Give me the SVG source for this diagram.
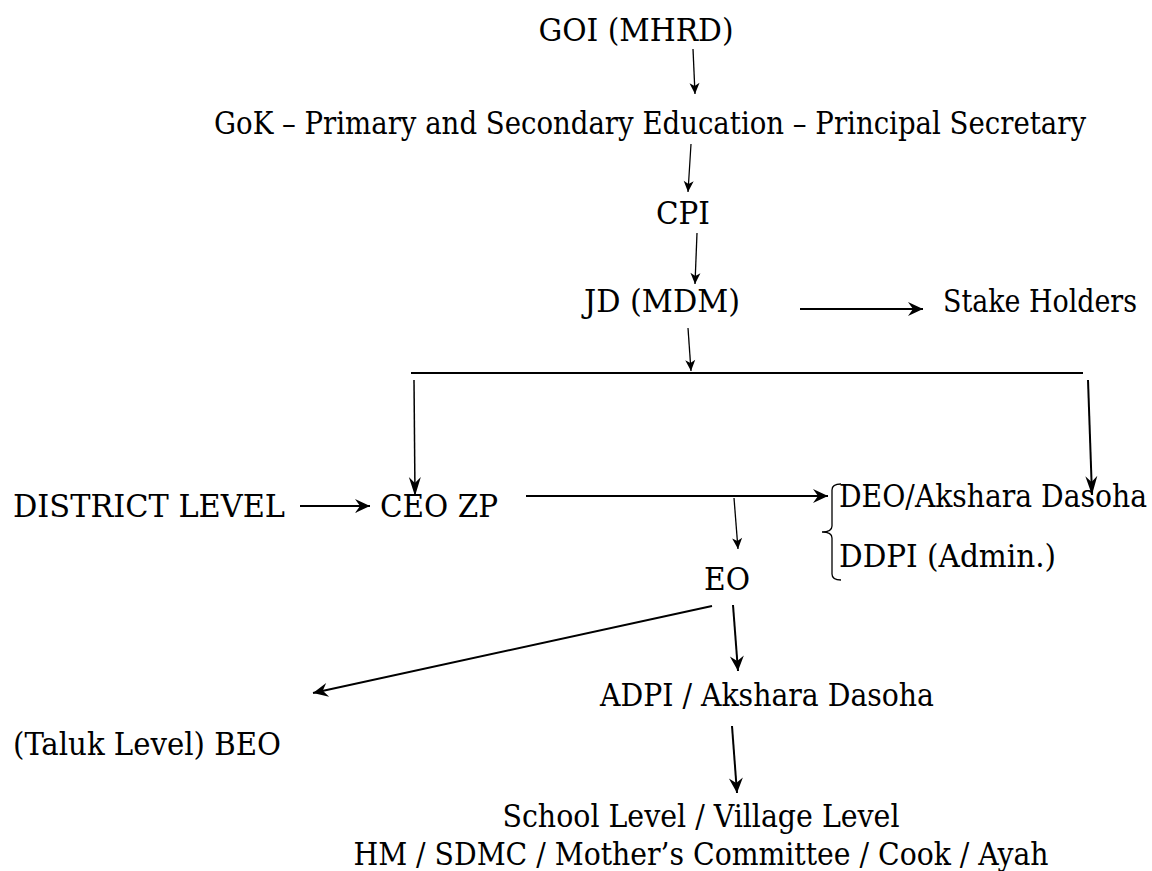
<svg xmlns="http://www.w3.org/2000/svg" width="1152" height="871" viewBox="0 0 1152 871">
<style>
text{font-family:'DejaVu Serif Condensed','DejaVu Serif',serif;font-stretch:condensed;font-size:32px;fill:#000}
.c{text-anchor:middle}
.t{stroke:#000;stroke-width:1.3;fill:none}
.k{stroke:#000;stroke-width:2;fill:none}
</style>
<defs>
<marker id="as" markerUnits="userSpaceOnUse" viewBox="-12 -6 13 12" markerWidth="13" markerHeight="12" refX="0" refY="0" orient="auto">
<path d="M0,0 L-11,-5 L-8,0 L-11,5 Z" fill="#000"/>
</marker>
<marker id="al" markerUnits="userSpaceOnUse" viewBox="-17 -8 18 16" markerWidth="18" markerHeight="16" refX="0" refY="0" orient="auto">
<path d="M0,0 L-15,-7 L-10,0 L-15,7 Z" fill="#000"/>
</marker>
<marker id="av" markerUnits="userSpaceOnUse" viewBox="-21 -7 22 14" markerWidth="22" markerHeight="14" refX="0" refY="0" orient="auto">
<path d="M0,0 L-19,-6 L-13,0 L-19,6 Z" fill="#000"/>
</marker>
</defs>
<rect width="1152" height="871" fill="#fff"/>
<g id="goi"><text class="c" x="636" y="41" textLength="195" lengthAdjust="spacingAndGlyphs">GOI (MHRD)</text></g>
<g id="gok"><text class="c" x="650" y="134" textLength="872" lengthAdjust="spacingAndGlyphs">GoK – Primary and Secondary Education – Principal Secretary</text></g>
<g id="cpi"><text class="c" x="683" y="224" textLength="54" lengthAdjust="spacingAndGlyphs">CPI</text></g>
<g id="jd"><text x="584" y="312" textLength="156" lengthAdjust="spacingAndGlyphs">JD (MDM)</text></g>
<g id="stake"><text x="943" y="312" textLength="194" lengthAdjust="spacingAndGlyphs">Stake Holders</text></g>
<g id="district"><text x="13" y="517" textLength="272" lengthAdjust="spacingAndGlyphs">DISTRICT LEVEL</text></g>
<g id="ceo"><text x="380" y="517" textLength="118" lengthAdjust="spacingAndGlyphs">CEO ZP</text></g>
<g id="deo">
<path class="t" d="M841,484 Q832,484 832,490 L832,526 Q832,532 822,532 Q832,532 832,538 L832,574 Q832,580 841,580"/>
<text x="839" y="507" textLength="308" lengthAdjust="spacingAndGlyphs">DEO/Akshara Dasoha</text>
<text x="839" y="567" textLength="217" lengthAdjust="spacingAndGlyphs">DDPI (Admin.)</text>
</g>
<g id="eo"><text class="c" x="727" y="590" textLength="46" lengthAdjust="spacingAndGlyphs">EO</text></g>
<g id="adpi"><text x="600" y="706" textLength="334" lengthAdjust="spacingAndGlyphs">ADPI / Akshara Dasoha</text></g>
<g id="beo"><text x="13" y="755" textLength="268" lengthAdjust="spacingAndGlyphs">(Taluk Level) BEO</text></g>
<g id="school">
<text class="c" x="701" y="827" textLength="397" lengthAdjust="spacingAndGlyphs">School Level / Village Level</text>
<text class="c" x="701" y="865" textLength="695" lengthAdjust="spacingAndGlyphs">HM / SDMC / Mother’s Committee / Cook / Ayah</text>
</g>
<g id="connectors">
<line class="t" x1="693" y1="49" x2="695" y2="94" marker-end="url(#as)"/>
<line class="t" x1="691" y1="144" x2="688" y2="192" marker-end="url(#as)"/>
<line class="t" x1="697" y1="233" x2="695" y2="284" marker-end="url(#as)"/>
<line class="k" x1="800" y1="309" x2="923" y2="309" marker-end="url(#al)"/>
<line class="t" x1="688" y1="328" x2="691" y2="371" marker-end="url(#as)"/>
<line stroke="#000" stroke-width="2.2" x1="411" y1="373" x2="1083" y2="373"/>
<line stroke="#000" stroke-width="1.5" x1="414" y1="380" x2="415" y2="496" marker-end="url(#av)"/>
<line class="k" x1="1088" y1="380" x2="1092" y2="495" marker-end="url(#av)"/>
<line class="k" x1="300" y1="506" x2="370" y2="506" marker-end="url(#al)"/>
<line class="k" x1="526" y1="496" x2="828" y2="496" marker-end="url(#al)"/>
<line class="t" x1="734" y1="498" x2="738" y2="549" marker-end="url(#as)"/>
<line class="k" x1="712" y1="606" x2="313" y2="693" marker-end="url(#al)"/>
<line class="k" x1="733" y1="605" x2="738" y2="671" marker-end="url(#al)"/>
<line class="k" x1="732" y1="726" x2="737" y2="793" marker-end="url(#al)"/>
</g>
</svg>
